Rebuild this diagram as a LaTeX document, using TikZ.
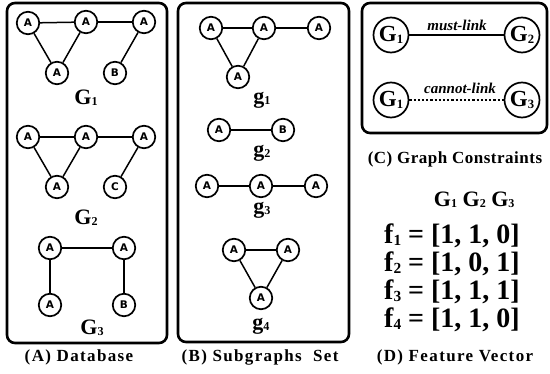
\documentclass[tikz,border=0pt]{standalone}
\usepackage{fontspec}
\usepackage{graphicx}
\setmainfont{Liberation Serif}
\newfontfamily\vtxfont{DejaVu Sans}
\newcommand\sbs[1]{\raisebox{-0.06em}{\scalebox{0.55}{#1}}}
\tikzset{
  vtx/.style={circle, draw, line width=1.7pt, minimum size=22.5pt, inner sep=0pt, font=\vtxfont\bfseries\fontsize{10.5}{10.5}\selectfont},
  cvtx/.style={circle, draw, line width=1.7pt, minimum size=35pt, inner sep=0pt, font=\bfseries\fontsize{23}{23}\selectfont},
  edg/.style={line width=1.5pt},
  panel/.style={draw, line width=2.6pt, rounded corners=8pt},
  glabel/.style={font=\bfseries\fontsize{22}{22}\selectfont},
  capt/.style={font=\bfseries\fontsize{17}{17}\selectfont\addfontfeatures{LetterSpace=8}},
  linklabel/.style={font=\bfseries\itshape\fontsize{15}{15}\selectfont},
  vecrow/.style={anchor=west, font=\bfseries\fontsize{28}{28}\selectfont, inner sep=0pt}
}
\begin{document}
\begin{tikzpicture}[x=1pt,y=-1pt]
\useasboundingbox (0,0) rectangle (550,374);
% panels
\draw[panel] (7,3) rectangle (167,343);
\draw[panel] (178,3) rectangle (349,342);
\draw[panel] (362,3) rectangle (547,133);

% ---- (A) Database ----
% G1
\node[vtx] (a11) at (28,23) {A};
\node[vtx] (a12) at (86,22) {A};
\node[vtx] (a13) at (144,22) {A};
\node[vtx] (a14) at (57,73) {A};
\node[vtx] (a15) at (115,73) {B};
\draw[edg] (a11) -- (a12); \draw[edg] (a12) -- (a13);
\draw[edg] (a11) -- (a14); \draw[edg] (a12) -- (a14);
\draw[edg] (a13) -- (a15);
\node[glabel] (lG1) at (86,98) {G\sbs{1}};
% G2
\node[vtx] (a21) at (28,137) {A};
\node[vtx] (a22) at (86,137) {A};
\node[vtx] (a23) at (144,137) {A};
\node[vtx] (a24) at (57,187) {A};
\node[vtx] (a25) at (115,187) {C};
\draw[edg] (a21) -- (a22); \draw[edg] (a22) -- (a23);
\draw[edg] (a21) -- (a24); \draw[edg] (a22) -- (a24);
\draw[edg] (a23) -- (a25);
\node[glabel] (lG2) at (86,218) {G\sbs{2}};
% G3
\node[vtx] (a31) at (50,248) {A};
\node[vtx] (a32) at (124,248) {A};
\node[vtx] (a33) at (50,305) {A};
\node[vtx] (a34) at (124,305) {B};
\draw[edg] (a31) -- (a32); \draw[edg] (a31) -- (a33); \draw[edg] (a32) -- (a34);
\node[glabel] (lG3) at (92,328) {G\sbs{3}};
\node[capt] (capA) at (79,357) {(A) Database};

% ---- (B) Subgraphs ----
\node[vtx] (b11) at (211,28) {A};
\node[vtx] (b12) at (264,28) {A};
\node[vtx] (b13) at (319,28) {A};
\node[vtx] (b14) at (238,77) {A};
\draw[edg] (b11) -- (b12); \draw[edg] (b12) -- (b13);
\draw[edg] (b11) -- (b14); \draw[edg] (b12) -- (b14);
\node[glabel] (lg1) at (262,100) {g\sbs{1}};
\node[vtx] (b21) at (219,130) {A};
\node[vtx] (b22) at (283,130) {B};
\draw[edg] (b21) -- (b22);
\node[glabel] (lg2) at (262,153) {g\sbs{2}};
\node[vtx] (b31) at (207,186) {A};
\node[vtx] (b32) at (261,186) {A};
\node[vtx] (b33) at (316,186) {A};
\draw[edg] (b31) -- (b32); \draw[edg] (b32) -- (b33);
\node[glabel] (lg3) at (262,210) {g\sbs{3}};
\node[vtx] (b41) at (234,250) {A};
\node[vtx] (b42) at (288,250) {A};
\node[vtx] (b43) at (261,298) {A};
\draw[edg] (b41) -- (b42); \draw[edg] (b41) -- (b43); \draw[edg] (b42) -- (b43);
\node[glabel] (lg4) at (261,326) {g\sbs{4}};
\node[capt] (capB) at (260,357) {(B) Subgraphs\ \ Set};

% ---- (C) Graph Constraints ----
\node[cvtx] (c1) at (391,35) {G\sbs{1}};
\node[cvtx] (c2) at (522,35) {G\sbs{2}};
\node[cvtx] (c3) at (391,100) {G\sbs{1}};
\node[cvtx] (c4) at (522,100) {G\sbs{3}};
\draw[line width=1.7pt] (c1) -- (c2);
\draw[line width=2.2pt, dotted] (c3) -- (c4);
\node[linklabel] (ml) at (457,25) {must-link};
\node[linklabel] (cl) at (460,88) {cannot-link};
\node[capt, font=\bfseries\fontsize{17}{17}\selectfont\addfontfeatures{LetterSpace=3}] (capC) at (455,159) {(C) Graph Constraints};

% ---- (D) Feature Vector ----
\node[anchor=east, font=\bfseries\fontsize{22}{22}\selectfont] (hdr) at (518,200) {G\sbs{1} G\sbs{2} G\sbs{3}};
\node[vecrow] (f1) at (384,236) {f\sbs{1} = [1, 1, 0]};
\node[vecrow] (f2) at (384,264) {f\sbs{2} = [1, 0, 1]};
\node[vecrow] (f3) at (384,292) {f\sbs{3} = [1, 1, 1]};
\node[vecrow] (f4) at (384,320) {f\sbs{4} = [1, 1, 0]};
\node[capt] (capD) at (455,357) {(D) Feature Vector};
\end{tikzpicture}
\end{document}
